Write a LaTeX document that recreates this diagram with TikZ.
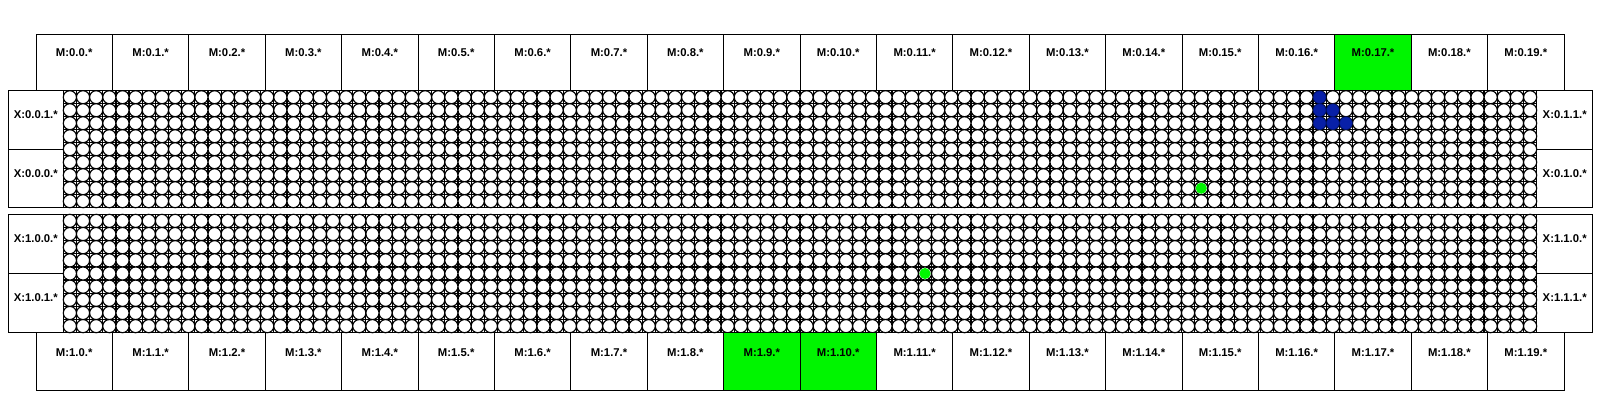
\documentclass[tikz,border=0pt]{standalone}
\usepackage{fontspec}
\setmainfont{Liberation Sans}
\definecolor{lime}{RGB}{0,245,0}
\definecolor{dotblue}{RGB}{8,32,168}
\definecolor{dotblueline}{RGB}{0,18,110}
\begin{document}
\begin{tikzpicture}[x=1pt,y=-1pt,
  lab/.style={font=\bfseries\fontsize{11.3}{12}\selectfont, inner sep=0pt},
  boxline/.style={draw=black, line width=0.9pt},
  gridline/.style={draw=black, line width=1.2pt},
  cellring/.style={draw=black, fill=white, line width=1.15pt},
  gdot/.style={fill=lime, draw=none},
  bdot/.style={fill=dotblue, draw=dotblueline, line width=0.6pt}]
\useasboundingbox (0,0) rectangle (1600,400);
\pgfmathsetmacro\gl{63.3}
\pgfmathsetmacro\gr{1536.7}
\pgfmathsetmacro\pw{(1536.7-63.3)/112}
% chip vertical extents
\def\cAtop{90.7}\def\cAbot{207.7}
\def\cBtop{214.3}\def\cBbot{332.7}
% ---- grids ----
\foreach \ct/\cb in {\cAtop/\cAbot, \cBtop/\cBbot}{
  \pgfmathsetmacro\ph{(\cb-\ct)/9}
  \path[gridline] \foreach \i in {1,...,111}{ ({\gl+\i*\pw},\ct) -- ({\gl+\i*\pw},\cb) }
                  \foreach \j in {1,...,8}{ (\gl,{\ct+\j*\ph}) -- (\gr,{\ct+\j*\ph}) };
  \pgfmathsetmacro\rx{\pw/2}
  \pgfmathsetmacro\ry{\ph/2}
  \path[cellring] \foreach \i in {0,...,111}{ \foreach \j in {0,...,8}{
      ({\gl+(\i+0.5)*\pw},{\ct+(\j+0.5)*\ph}) ellipse [x radius=\rx, y radius=\ry] } };
}
% ---- chip frames and X boxes ----
\foreach \ct/\cb/\c/\la/\lb/\ra/\rb in {\cAtop/\cAbot/0/1/0/1/0, \cBtop/\cBbot/1/0/1/0/1}{
  \pgfmathsetmacro\cm{(\ct+\cb)/2}
  \draw[boxline] (8.3,\ct) rectangle (1592.7,\cb);
  \draw[boxline] (\gl,\ct) -- (\gl,\cb) (\gr,\ct) -- (\gr,\cb);
  \draw[boxline] (8.3,\cm) -- (\gl,\cm) (\gr,\cm) -- (1592.7,\cm);
  \node[lab] (xl\c a) at ({(8.3+\gl)/2},{\ct+24}) {X:\c.0.\la.*};
  \node[lab] (xl\c b) at ({(8.3+\gl)/2},{\cm+24}) {X:\c.0.\lb.*};
  \node[lab] (xr\c a) at ({(\gr+1592.7)/2},{\ct+24}) {X:\c.1.\ra.*};
  \node[lab] (xr\c b) at ({(\gr+1592.7)/2},{\cm+24}) {X:\c.1.\rb.*};
}
% ---- M boxes ----
\pgfmathsetmacro\mw{(1564-36)/20}
\foreach \i in {0,...,19}{
  \pgfmathsetmacro\xa{36+\i*\mw}
  \pgfmathsetmacro\xb{36+(\i+1)*\mw}
  \ifnum\i=17 \fill[lime] (\xa,34) rectangle (\xb,\cAtop); \fi
  \ifnum\i=9 \fill[lime] (\xa,\cBbot) rectangle (\xb,390); \fi
  \ifnum\i=10 \fill[lime] (\xa,\cBbot) rectangle (\xb,390); \fi
  \draw[boxline] (\xa,34) rectangle (\xb,\cAtop);
  \draw[boxline] (\xa,\cBbot) rectangle (\xb,390);
  \node[lab] (mt\i) at ({(\xa+\xb)/2},52.5) {M:0.\i.*};
  \node[lab] (mb\i) at ({(\xa+\xb)/2},352.3) {M:1.\i.*};
}
% ---- highlighted cells ----
\pgfmathsetmacro\phA{(\cAbot-\cAtop)/9}
\pgfmathsetmacro\phB{(\cBbot-\cBtop)/9}
\fill[gdot] ({\gl+86.5*\pw},{\cAtop+7.5*\phA}) circle (5.6);
\fill[gdot] ({\gl+65.5*\pw},{\cBtop+4.5*\phB}) circle (5.6);
\foreach \i/\j in {95/0, 95/1, 96/1, 95/2, 96/2, 97/2}{
  \path[bdot] ({\gl+(\i+0.5)*\pw},{\cAtop+(\j+0.5)*\phA}) circle (6.4);
}
\end{tikzpicture}
\end{document}
